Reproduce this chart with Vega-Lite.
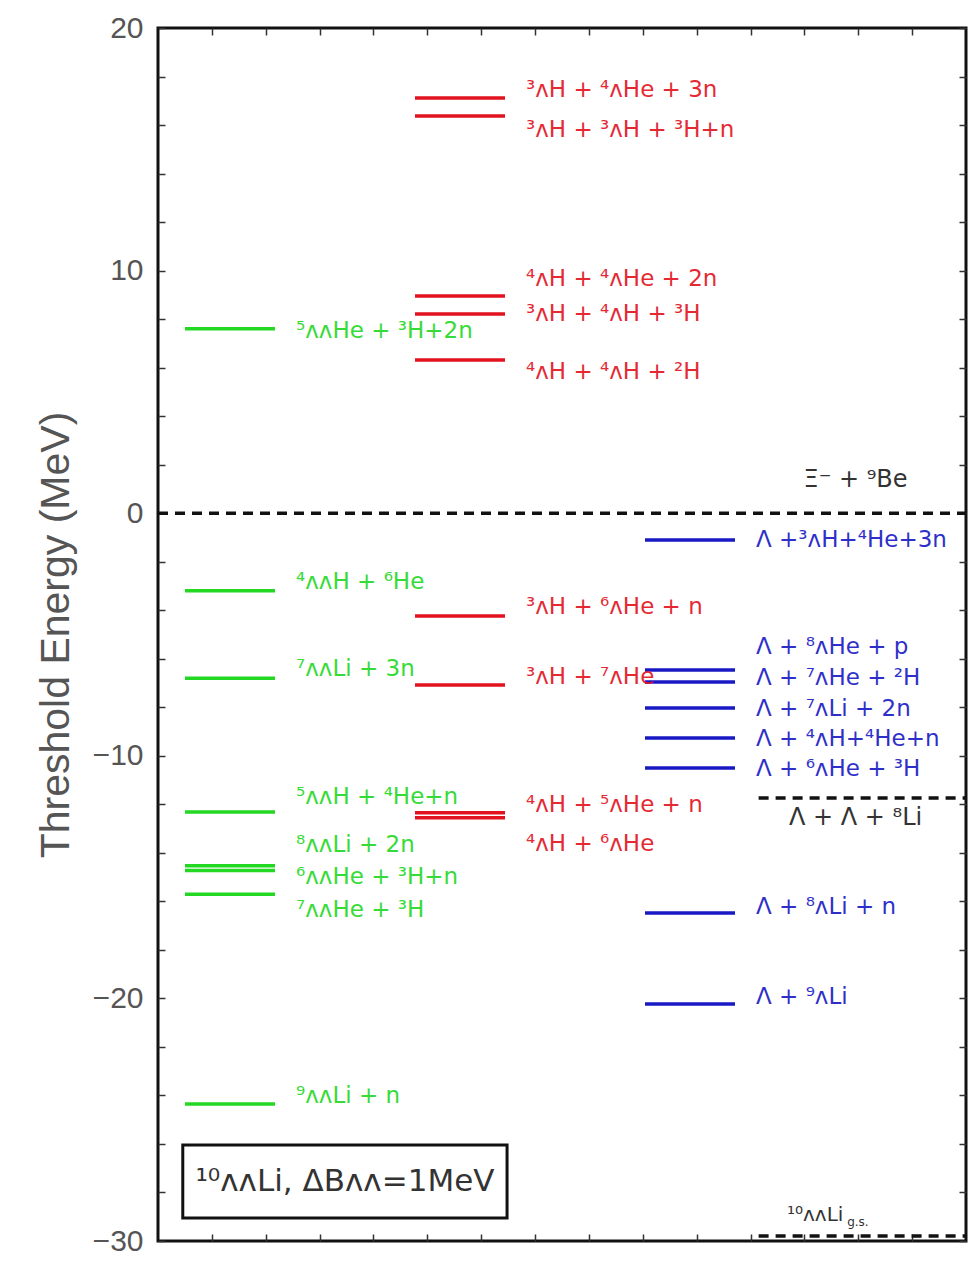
{
  "$schema": "https://vega.github.io/schema/vega-lite/v6.json",
  "width": 808,
  "height": 1213,
  "autosize": {"type": "none"},
  "padding": {"left": 158, "top": 28, "right": 14, "bottom": 21},
  "background": "white",
  "config": {
    "view": {"stroke": "#111", "strokeWidth": 3},
    "font": "DejaVu Sans",
    "text": {"font": "DejaVu Sans"}
  },
  "datasets": {
    "levels": [
      {"family": "LL-nucleus + X", "energy": 7.6, "label_energy": 7.5, "label": "⁵ᴧᴧHe + ³H+2n"},
      {"family": "LL-nucleus + X", "energy": -3.2, "label_energy": -2.84, "label": "⁴ᴧᴧH + ⁶He"},
      {"family": "LL-nucleus + X", "energy": -6.8, "label_energy": -6.42, "label": "⁷ᴧᴧLi + 3n"},
      {"family": "LL-nucleus + X", "energy": -12.32, "label_energy": -11.7, "label": "⁵ᴧᴧH + ⁴He+n"},
      {"family": "LL-nucleus + X", "energy": -14.53, "label_energy": -13.68, "label": "⁸ᴧᴧLi + 2n"},
      {"family": "LL-nucleus + X", "energy": -14.73, "label_energy": -15.0, "label": "⁶ᴧᴧHe + ³H+n"},
      {"family": "LL-nucleus + X", "energy": -15.71, "label_energy": -16.36, "label": "⁷ᴧᴧHe + ³H"},
      {"family": "LL-nucleus + X", "energy": -24.35, "label_energy": -24.02, "label": "⁹ᴧᴧLi + n"},
      {"family": "L-nucleus + L-nucleus", "energy": 17.11, "label_energy": 17.44, "label": "³ᴧH + ⁴ᴧHe + 3n"},
      {"family": "L-nucleus + L-nucleus", "energy": 16.37, "label_energy": 15.8, "label": "³ᴧH + ³ᴧH + ³H+n"},
      {"family": "L-nucleus + L-nucleus", "energy": 8.95, "label_energy": 9.65, "label": "⁴ᴧH + ⁴ᴧHe + 2n"},
      {"family": "L-nucleus + L-nucleus", "energy": 8.21, "label_energy": 8.21, "label": "³ᴧH + ⁴ᴧH + ³H"},
      {"family": "L-nucleus + L-nucleus", "energy": 6.31, "label_energy": 5.82, "label": "⁴ᴧH + ⁴ᴧH + ²H"},
      {"family": "L-nucleus + L-nucleus", "energy": -4.24, "label_energy": -3.87, "label": "³ᴧH + ⁶ᴧHe + n"},
      {"family": "L-nucleus + L-nucleus", "energy": -7.08, "label_energy": -6.75, "label": "³ᴧH + ⁷ᴧHe"},
      {"family": "L-nucleus + L-nucleus", "energy": -12.35, "label_energy": -12.03, "label": "⁴ᴧH + ⁵ᴧHe + n"},
      {"family": "L-nucleus + L-nucleus", "energy": -12.55, "label_energy": -13.64, "label": "⁴ᴧH + ⁶ᴧHe"},
      {"family": "L + L-nucleus", "energy": -1.1, "label_energy": -1.1, "label": "Λ +³ᴧH+⁴He+3n"},
      {"family": "L + L-nucleus", "energy": -6.46, "label_energy": -5.52, "label": "Λ + ⁸ᴧHe + p"},
      {"family": "L + L-nucleus", "energy": -6.96, "label_energy": -6.79, "label": "Λ + ⁷ᴧHe + ²H"},
      {"family": "L + L-nucleus", "energy": -8.03, "label_energy": -8.07, "label": "Λ + ⁷ᴧLi + 2n"},
      {"family": "L + L-nucleus", "energy": -9.27, "label_energy": -9.31, "label": "Λ + ⁴ᴧH+⁴He+n"},
      {"family": "L + L-nucleus", "energy": -10.5, "label_energy": -10.54, "label": "Λ + ⁶ᴧHe + ³H"},
      {"family": "L + L-nucleus", "energy": -16.48, "label_energy": -16.23, "label": "Λ + ⁸ᴧLi + n"},
      {"family": "L + L-nucleus", "energy": -20.23, "label_energy": -19.94, "label": "Λ + ⁹ᴧLi"}
    ],
    "thresholds": [
      {"name": "xi", "energy": 0, "label_energy": 1.37, "label": "Ξ⁻ + ⁹Be"},
      {"name": "llli8", "energy": -11.74, "label_energy": -12.56, "label": "Λ + Λ + ⁸Li"},
      {"name": "gs", "energy": -29.79, "label_energy": -28.93, "label": "¹⁰ᴧᴧLi"}
    ],
    "notes": [
      {"note": "¹⁰ᴧᴧLi, ΔBᴧᴧ=1MeV"}
    ]
  },
  "resolve": {
    "scale": {"x": "independent"},
    "axis": {"x": "independent", "y": "independent"}
  },
  "layer": [
    {
      "data": {"name": "thresholds"},
      "transform": [{"filter": "datum.name === 'xi'"}],
      "mark": {"type": "rule", "strokeDash": [10, 7], "strokeWidth": 3.5, "color": "#111"},
      "encoding": {
        "x": {"datum": 0, "type": "quantitative", "scale": {"domain": [0, 15], "nice": false, "zero": false},
          "axis": {"orient": "bottom", "values": [1, 2, 3, 4, 5, 6, 7, 8, 9, 10, 11, 12, 13, 14], "labels": false, "tickSize": -7, "tickWidth": 1.5, "tickColor": "#333", "domain": false, "grid": false, "title": null}},
        "x2": {"datum": 15},
        "y": {"field": "energy", "type": "quantitative", "scale": {"domain": [-30, 20], "nice": false, "zero": false},
          "axis": {
            "orient": "left",
            "values": [-30, -28, -26, -24, -22, -20, -18, -16, -14, -12, -10, -8, -6, -4, -2, 0, 2, 4, 6, 8, 10, 12, 14, 16, 18, 20],
            "labelExpr": "datum.value % 10 === 0 ? datum.label : ''",
            "labelOverlap": false, "labelFlush": false,
            "tickSize": -7, "tickWidth": 1.5, "tickColor": "#333",
            "domain": false, "grid": false,
            "labelFont": "Liberation Sans", "labelFontSize": 30, "labelColor": "#555", "labelPadding": 22,
            "title": "Threshold Energy (MeV)", "titleFont": "Liberation Sans", "titleFontSize": 41,
            "titleFontWeight": "normal", "titleColor": "#555", "titlePadding": 15
          }}
      }
    },
    {
      "data": {"name": "thresholds"},
      "transform": [{"filter": "datum.name === 'xi'"}],
      "mark": {"type": "rule", "opacity": 0},
      "encoding": {
        "x": {"datum": 0, "type": "quantitative", "scale": {"domain": [0, 15], "nice": false, "zero": false},
          "axis": {"orient": "top", "values": [1, 2, 3, 4, 5, 6, 7, 8, 9, 10, 11, 12, 13, 14], "labels": false, "tickSize": -7, "tickWidth": 1.5, "tickColor": "#333", "domain": false, "grid": false, "title": null}},
        "x2": {"datum": 15},
        "y": {"field": "energy", "type": "quantitative", "scale": {"domain": [-30, 20], "nice": false, "zero": false},
          "axis": {
            "orient": "right",
            "values": [-30, -28, -26, -24, -22, -20, -18, -16, -14, -12, -10, -8, -6, -4, -2, 0, 2, 4, 6, 8, 10, 12, 14, 16, 18, 20],
            "labels": false, "tickSize": -7, "tickWidth": 1.5, "tickColor": "#333",
            "domain": false, "grid": false, "title": null
          }}
      }
    },
    {
      "data": {"name": "thresholds"},
      "transform": [{"filter": "datum.name !== 'xi'"}],
      "mark": {"type": "rule", "strokeDash": [10, 7], "strokeWidth": 3.5, "color": "#111"},
      "encoding": {
        "x": {"datum": 11.15, "type": "quantitative", "scale": {"domain": [0, 15], "nice": false, "zero": false}, "axis": null},
        "x2": {"datum": 15},
        "y": {"field": "energy", "type": "quantitative", "scale": {"domain": [-30, 20], "nice": false, "zero": false}, "axis": null}
      }
    },
    {
      "data": {"name": "thresholds"},
      "transform": [{"filter": "datum.name !== 'gs'"}],
      "mark": {"type": "text", "align": "center", "baseline": "middle", "fontSize": 24, "color": "#333"},
      "encoding": {
        "x": {"datum": 12.95, "type": "quantitative", "scale": {"domain": [0, 15], "nice": false, "zero": false}, "axis": null},
        "y": {"field": "label_energy", "type": "quantitative", "scale": {"domain": [-30, 20], "nice": false, "zero": false}, "axis": null},
        "text": {"field": "label"}
      }
    },
    {
      "data": {"name": "thresholds"},
      "transform": [{"filter": "datum.name === 'gs'"}],
      "mark": {"type": "text", "align": "center", "baseline": "middle", "fontSize": 20, "color": "#333"},
      "encoding": {
        "x": {"datum": 12.2, "type": "quantitative", "scale": {"domain": [0, 15], "nice": false, "zero": false}, "axis": null},
        "y": {"field": "label_energy", "type": "quantitative", "scale": {"domain": [-30, 20], "nice": false, "zero": false}, "axis": null},
        "text": {"field": "label"}
      }
    },
    {
      "data": {"name": "thresholds"},
      "transform": [{"filter": "datum.name === 'gs'"}],
      "mark": {"type": "text", "align": "left", "baseline": "middle", "fontSize": 12, "color": "#333", "dx": 32, "dy": 7, "text": "g.s."},
      "encoding": {
        "x": {"datum": 12.2, "type": "quantitative", "scale": {"domain": [0, 15], "nice": false, "zero": false}, "axis": null},
        "y": {"field": "label_energy", "type": "quantitative", "scale": {"domain": [-30, 20], "nice": false, "zero": false}, "axis": null}
      }
    },
    {
      "data": {"name": "levels"},
      "mark": {"type": "tick", "orient": "horizontal", "size": 90, "thickness": 3.5, "opacity": 1},
      "encoding": {
        "x": {"field": "family", "type": "nominal", "scale": {"type": "point", "padding": 0, "domain": ["LL-nucleus + X", "L-nucleus + L-nucleus", "L + L-nucleus"], "range": [72, 532]}, "axis": null},
        "y": {"field": "energy", "type": "quantitative", "scale": {"domain": [-30, 20], "nice": false, "zero": false}, "axis": null},
        "color": {"field": "family", "type": "nominal", "scale": {"domain": ["LL-nucleus + X", "L-nucleus + L-nucleus", "L + L-nucleus"], "range": ["#22d822", "#e2121e", "#1818c4"]}, "legend": null}
      }
    },
    {
      "data": {"name": "levels"},
      "mark": {"type": "text", "align": "left", "baseline": "middle", "fontSize": 23, "dx": 66, "opacity": 0.9},
      "encoding": {
        "x": {"field": "family", "type": "nominal", "scale": {"type": "point", "padding": 0, "domain": ["LL-nucleus + X", "L-nucleus + L-nucleus", "L + L-nucleus"], "range": [72, 532]}, "axis": null},
        "y": {"field": "label_energy", "type": "quantitative", "scale": {"domain": [-30, 20], "nice": false, "zero": false}, "axis": null},
        "text": {"field": "label"},
        "color": {"field": "family", "type": "nominal", "scale": {"domain": ["LL-nucleus + X", "L-nucleus + L-nucleus", "L + L-nucleus"], "range": ["#22d822", "#e2121e", "#1818c4"]}, "legend": null}
      }
    },
    {
      "data": {"name": "notes"},
      "mark": {"type": "rect", "fill": "white", "stroke": "#111", "strokeWidth": 3},
      "encoding": {
        "x": {"datum": 0.46, "type": "quantitative", "scale": {"domain": [0, 15], "nice": false, "zero": false}, "axis": null},
        "x2": {"datum": 6.48},
        "y": {"datum": -26.04, "type": "quantitative", "scale": {"domain": [-30, 20], "nice": false, "zero": false}, "axis": null},
        "y2": {"datum": -29.05}
      }
    },
    {
      "data": {"name": "notes"},
      "mark": {"type": "text", "align": "center", "baseline": "middle", "fontSize": 31, "color": "#333"},
      "encoding": {
        "x": {"datum": 3.47, "type": "quantitative", "scale": {"domain": [0, 15], "nice": false, "zero": false}, "axis": null},
        "y": {"datum": -27.55, "type": "quantitative", "scale": {"domain": [-30, 20], "nice": false, "zero": false}, "axis": null},
        "text": {"field": "note"}
      }
    }
  ]
}
